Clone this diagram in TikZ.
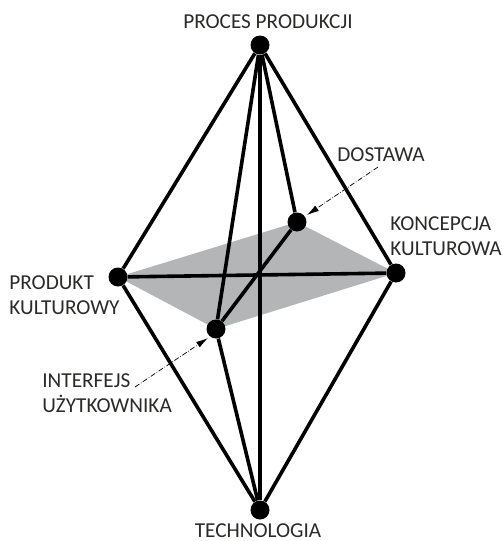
\documentclass[tikz,border=0pt]{standalone}
\usepackage{fontspec}
\setmainfont{Carlito}
\usetikzlibrary{arrows.meta,backgrounds}
\definecolor{planegray}{HTML}{B3B5B7}
\definecolor{labeltext}{HTML}{2B2A29}
\tikzset{
	vertex/.style={circle,fill=black,inner sep=0pt,minimum size=0.38cm},
	edge/.style={black,line width=0.072cm},
	leader/.style={black,line width=0.4pt,densely dashdotted,-{Latex[length=0.24cm,width=0.13cm]}},
	lbl/.style={text=labeltext,font=\fontsize{12.1pt}{14.3pt}\selectfont,inner sep=0pt,align=left}
}
\begin{document}
\begin{tikzpicture}[x=0.02cm,y=-0.02cm]
	\useasboundingbox (0,0) rectangle (501,541);
	
	% Vertices
	\node[vertex] (top) at (260,45) {};
	\node[vertex] (bottom) at (260,510) {};
	\node[vertex] (produkt) at (118,277) {};
	\node[vertex] (koncepcja) at (396,273) {};
	\node[vertex] (interfejs) at (216,329) {};
	\node[vertex] (dostawa) at (297,222) {};
	
	% Plane
	\begin{scope}[on background layer]
		\fill[planegray] (produkt.center) -- (dostawa.center) -- (koncepcja.center) -- (interfejs.center) -- cycle;
	\end{scope}
	
	% Edges
	\foreach \a in {produkt,koncepcja,interfejs,dostawa} {
		\draw[edge] (top) -- (\a);
	}
	\foreach \a in {produkt,koncepcja,interfejs} {
		\draw[edge] (bottom) -- (\a);
	}
	\draw[edge] (top) -- (bottom);
	\draw[edge] (produkt) -- (koncepcja);
	\draw[edge] (interfejs) -- (dostawa);
	
	% Labels
	\node[lbl] (toplabel) at (268,22) {PROCES PRODUKCJI};
	\node[lbl] (bottomlabel) at (258,531) {TECHNOLOGIA};
	\node[lbl,anchor=west] (produktlabel) at (9,295) {PRODUKT\\KULTUROWY};
	\node[lbl,anchor=west] (koncepcjalabel) at (390,236) {KONCEPCJA\\KULTUROWA};
	\node[lbl,anchor=west] (interfejslabel) at (42,393) {INTERFEJS\\UŻYTKOWNIKA};
	\node[lbl] (dostawalabel) at (381,155) {DOSTAWA};
	
	% Leaders
	\coordinate (dostawafrom) at (378,167);
	\coordinate (dostawato) at (307,215);
	\coordinate (interfejsfrom) at (135,387);
	\coordinate (interfejsto) at (208,338);
	\draw[leader] (dostawafrom) -- (dostawato);
	\draw[leader] (interfejsfrom) -- (interfejsto);
	
\end{tikzpicture}
\end{document}
